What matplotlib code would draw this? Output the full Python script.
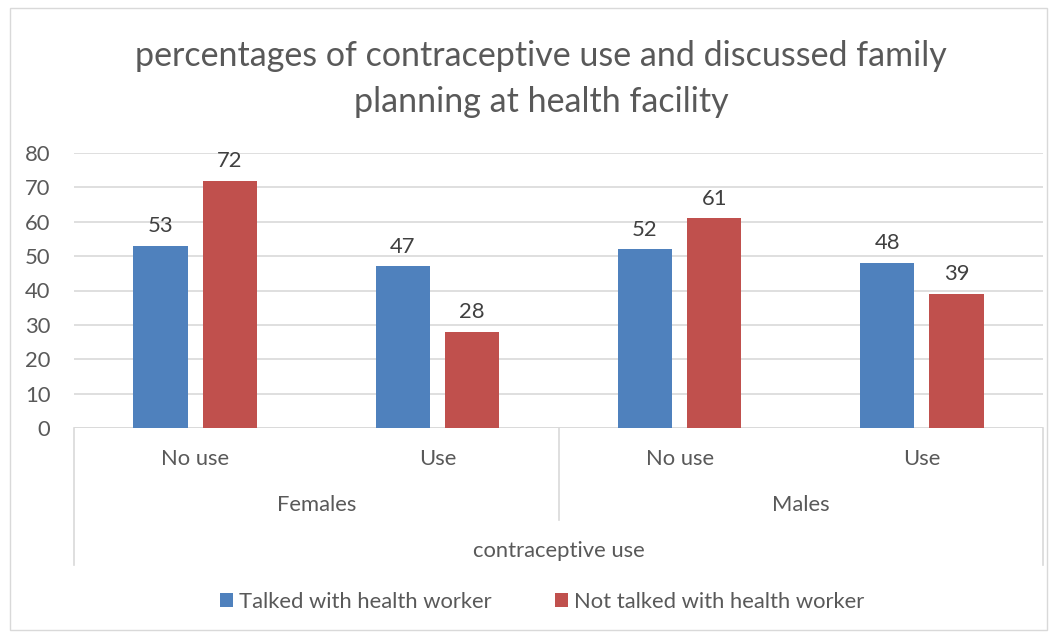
import matplotlib.pyplot as plt
import matplotlib.transforms as mtrans
from matplotlib.patches import Rectangle
from matplotlib.lines import Line2D
import numpy as np

title = "percentages of contraceptive use and discussed family\nplanning at health facility"
groups = ["Females", "Males"]
subcats = ["No use", "Use", "No use", "Use"]
series_names = ["Talked with health worker", "Not talked with health worker"]
talked = [53, 47, 52, 48]
not_talked = [72, 28, 61, 39]
axis_title = "contraceptive use"
yticks = [0, 10, 20, 30, 40, 50, 60, 70, 80]

blue = "#4F81BD"
red = "#C0504D"
txt = "#595959"
grid = "#D9D9D9"

plt.rcParams['font.family'] = ['Lato', 'DejaVu Sans']

W, H = 1058, 637
fig = plt.figure(figsize=(W / 100, H / 100), dpi=100)


def fx(px):
    return px / W


def fy(py):
    return 1 - py / H


# chart frame
fig.patches.append(Rectangle((fx(10), fy(630)), fx(1047) - fx(10), fy(8) - fy(630),
                             transform=fig.transFigure, fill=False,
                             edgecolor=grid, linewidth=1))

left, right, base, top = 74, 1043, 428, 153
ax = fig.add_axes([fx(left), fy(base), fx(right) - fx(left), fy(top) - fy(base)])

n = len(subcats)
x = np.arange(n)
bw = 0.224
gap = 0.062
off = (bw + gap) / 2
b1 = ax.bar(x - off, talked, bw, color=blue, label=series_names[0], zorder=3)
b2 = ax.bar(x + off, not_talked, bw, color=red, label=series_names[1], zorder=3)

fs = 15.8
for bars, vals in ((b1, talked), (b2, not_talked)):
    for r, v in zip(bars, vals):
        ax.annotate(str(v), (r.get_x() + r.get_width() / 2, v),
                    xytext=(0, 7), textcoords="offset points",
                    ha="center", va="bottom", fontsize=fs, color="#404040")

ax.set_xlim(-0.5, n - 0.5)
ax.set_ylim(0, 80)
ax.set_yticks(yticks)
ax.set_yticklabels([str(t) for t in yticks])
ax.tick_params(axis="y", length=0, pad=17, labelsize=fs, labelcolor=txt)
ax.set_xticks([])
ax.yaxis.grid(True, color=grid, linewidth=1.2)
ax.set_axisbelow(True)
for s in ax.spines.values():
    s.set_visible(False)
ax.axhline(0, color=grid, linewidth=1.2, zorder=2)

# category labels below the axis
blend = mtrans.blended_transform_factory(ax.transData, fig.transFigure)
for i, lab in enumerate(subcats):
    ax.text(i, fy(459), lab, transform=blend,
            ha="center", va="center", fontsize=fs, color=txt)
for g, lab in enumerate(groups):
    ax.text(2 * g + 0.5, fy(505), lab, transform=blend,
            ha="center", va="center", fontsize=fs, color=txt)
ax.text((n - 1) / 2, fy(551), axis_title, transform=blend,
        ha="center", va="center", fontsize=fs, color=txt)

# hierarchy divider lines
for xv, bottom in ((-0.5, 565), (1.5, 520), (n - 0.5, 565)):
    ax.add_line(Line2D([xv, xv], [fy(base), fy(bottom)], transform=blend,
                       color=grid, linewidth=1.2, clip_on=False))

fig.text(fx(541), fy(79), title, ha="center", va="center", fontsize=24.5,
         color=txt, linespacing=1.5)

leg = fig.legend(handles=[b1, b2], labels=series_names, loc="center",
                 bbox_to_anchor=(fx(542), fy(602)), ncol=2, frameon=False,
                 fontsize=fs, handlelength=0.6, handleheight=0.6,
                 handletextpad=0.25, columnspacing=2.9)
for t in leg.get_texts():
    t.set_color(txt)

fig.savefig("out.png", dpi=100)
